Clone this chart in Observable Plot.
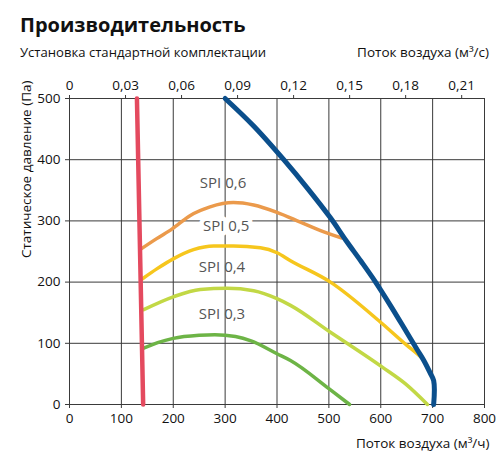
<!DOCTYPE html>
<html><head><meta charset="utf-8">
<script src="https://cdn.jsdelivr.net/npm/d3@7"></script>
<script src="https://cdn.jsdelivr.net/npm/@observablehq/plot@0.6"></script>
<style>
body{margin:0;background:#fff;font-family:"Open Sans",sans-serif;color:#111}
#wrap{position:relative;width:501px;height:462px;overflow:hidden}
.t{position:absolute;white-space:nowrap;line-height:1}
#chart{position:absolute;left:0;top:62px}
</style></head>
<body><div id="wrap">
<div class="t" style="left:20px;top:14.5px;font-size:20px;font-weight:700">Производительность</div>
<div class="t" style="left:20px;top:46px;font-size:13.1px">Установка стандартной комплектации</div>
<div class="t" style="right:12px;top:45.5px;font-size:13.5px">Поток воздуха (м³/с)</div>
<div id="chart"></div>
</div>
<script>
// Tick values
const xTicks = [0, 100, 200, 300, 400, 500, 600, 700, 800];          // m³/h
const yTicks = [0, 100, 200, 300, 400, 500];                         // Pa
const topTicks = [0, 0.03, 0.06, 0.09, 0.12, 0.15, 0.18, 0.21];      // m³/s
const topLabels = ["0", "0,03", "0,06", "0,09", "0,12", "0,15", "0,18", "0,21"];

// Curves: [airflow m³/h, static pressure Pa]
const minFlow = [[130, 500], [142, 0]];
const maxCurve = [[300, 500], [355, 455], [413, 400], [460, 352], [503, 305], [533, 268], [562, 234], [590, 200], [620, 160], [650, 118], [670, 90], [683, 72], [695, 52], [702, 39], [702, 0]];
const spi06 = [[136, 253], [168, 271], [198, 287], [233, 309], [271, 323], [316, 330], [355, 326], [400, 314], [445, 298], [484, 284], [525, 272]];
const spi05 = [[140, 205], [169, 222], [200, 238], [239, 253], [278, 259], [316, 259], [368, 256], [400, 248], [426, 235], [503, 200], [603, 132], [650, 97], [670, 83], [681, 75]];
const spi04 = [[143, 155], [200, 176], [252, 188], [304, 190], [355, 186], [400, 173], [426, 162], [503, 118], [603, 61], [650, 32], [690, 0]];
const spi03 = [[143, 92], [170, 101], [200, 108], [250, 113], [280, 114], [320, 111], [350, 104], [400, 83], [426, 72], [500, 26], [540, 0]];

const labels = [
  {text: "SPI 0,6", x: 296, y: 354, halo: false},
  {text: "SPI 0,5", x: 302, y: 284, halo: true},
  {text: "SPI 0,4", x: 294, y: 216, halo: false},
  {text: "SPI 0,3", x: 294, y: 140, halo: false}
];

const gridColor = "#3a3a3a";
const fs = 13.5;

const chart = Plot.plot({
  width: 501,
  height: 400,
  marginTop: 36,
  marginBottom: 58,
  marginLeft: 69,
  marginRight: 17,
  style: {fontFamily: "'Open Sans', sans-serif", fontSize: fs + "px", color: "#111", background: "white"},
  x: {domain: [0, 800]},
  y: {domain: [0, 500]},
  marks: [
    Plot.gridX(xTicks, {stroke: gridColor, strokeOpacity: 1, strokeWidth: 1}),
    Plot.gridY(yTicks, {stroke: gridColor, strokeOpacity: 1, strokeWidth: 1}),
    Plot.axisX(xTicks, {anchor: "bottom", tickSize: 4, tickPadding: 5, label: null, fontSize: fs, stroke: gridColor}),
    Plot.axisX(topTicks.map(v => v * 3600), {anchor: "top", tickSize: 4, tickPadding: 5, label: null, fontSize: fs, stroke: gridColor,
      tickFormat: (d, i) => topLabels[i]}),
    Plot.axisY(yTicks, {anchor: "left", tickSize: 4, tickPadding: 5, label: null, fontSize: fs, stroke: gridColor}),
    Plot.line(spi03, {stroke: "#6db446", strokeWidth: 3.5, curve: "monotone-x"}),
    Plot.line(spi04, {stroke: "#c2d845", strokeWidth: 3.5, curve: "monotone-x"}),
    Plot.line(spi05, {stroke: "#f6c61d", strokeWidth: 3.5, curve: "monotone-x"}),
    Plot.line(spi06, {stroke: "#eb9a4b", strokeWidth: 3.5, curve: "monotone-x"}),
    Plot.line(minFlow, {stroke: "#e44a5f", strokeWidth: 4.5}),
    Plot.line(maxCurve, {stroke: "#0b4f8c", strokeWidth: 5, curve: "catmull-rom"}),
    Plot.text(labels.filter(d => d.halo), {x: "x", y: "y", text: "text", lineAnchor: "bottom", fontSize: 15, fill: "white", stroke: "white", strokeWidth: 9}),
    Plot.text(labels, {x: "x", y: "y", text: "text", lineAnchor: "bottom", fontSize: 15, fill: "#555"}),
    Plot.text(["Поток воздуха (м³/ч)"], {frameAnchor: "bottom-right", textAnchor: "end", lineAnchor: "bottom", dx: 5, dy: 43, fontSize: fs, fill: "#111"}),
    Plot.text(["Статическое давление (Па)"], {frameAnchor: "top-left", textAnchor: "end", lineAnchor: "middle", rotate: -90, dx: -43, dy: -18, fontSize: fs, fill: "#111"})
  ]
});
document.getElementById("chart").appendChild(chart);
</script>
</body></html>
